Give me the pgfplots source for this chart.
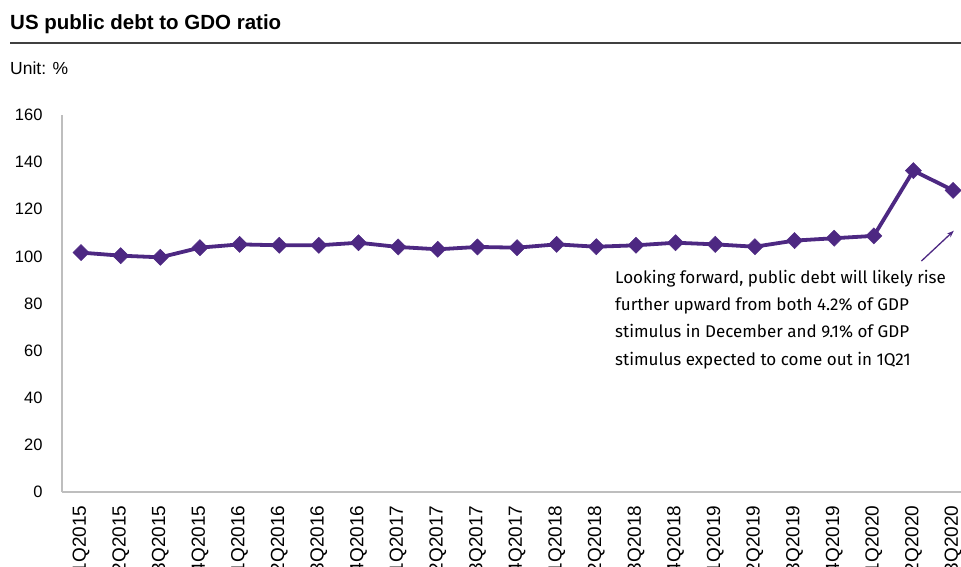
\documentclass[border=0pt]{standalone}
\usepackage{pgfplots}
\pgfplotsset{compat=1.18}
\usepackage{fontspec}
\setmainfont{Liberation Sans}
\newfontfamily\annfont{Fira Sans}
\usetikzlibrary{arrows.meta}
\definecolor{debtpurple}{RGB}{77,40,130}
\definecolor{axgray}{RGB}{190,190,190}
\begin{document}
\begin{tikzpicture}[x=1pt,y=1pt]
\useasboundingbox (0,0) rectangle (961,566);
\node[anchor=base west, inner sep=0, font=\bfseries\fontsize{20.5}{24}\selectfont] at (10,536.5) {US public debt to GDO ratio};
\draw[line width=1.5pt, color=black!75] (10,523) -- (961,523);
\node[anchor=base west, inner sep=0, font=\fontsize{17.5}{20}\selectfont] at (10,491) {Unit: \%};
\begin{axis}[
  at={(62pt,74pt)}, anchor=south west,
  scale only axis, width=899pt, height=377pt,
  xmin=-0.48, xmax=22.2, ymin=0, ymax=160,
  axis x line*=bottom, axis y line*=left,
  axis line style={-, draw=axgray, line width=1.5pt},
  major tick length=0pt,
  ytick={0,20,...,160},
  xtick={0,...,22},
  xticklabels={1Q2015,2Q2015,3Q2015,4Q2015,1Q2016,2Q2016,3Q2016,4Q2016,1Q2017,2Q2017,3Q2017,4Q2017,1Q2018,2Q2018,3Q2018,4Q2018,1Q2019,2Q2019,3Q2019,4Q2019,1Q2020,2Q2020,3Q2020},
  /pgf/number format/assume math mode=true,
  yticklabel style={font=\fontsize{16.5}{20}\selectfont, anchor=east, xshift=-16pt},
  xticklabel style={font=\fontsize{19}{22}\selectfont, yshift=-10pt, rotate=90, anchor=east},
  clip=false,
]
\addplot[color=debtpurple, line width=3.8pt, mark=square*, mark size=5.7pt, mark options={fill=debtpurple, rotate=45, line width=0.5pt}] coordinates {
(0,101.6) (1,100.3) (2,99.6) (3,103.7) (4,105.1) (5,104.7) (6,104.7) (7,105.8)
(8,104.0) (9,103.0) (10,104.0) (11,103.7) (12,105.1) (13,104.1) (14,104.7) (15,105.8)
(16,105.1) (17,104.1) (18,106.7) (19,107.7) (20,108.7) (21,136.4) (22,128.0)
};
\draw[-{Stealth[length=7pt,width=5pt]}, draw=debtpurple, line width=1.3pt] (axis cs:21.2,98) -- (axis cs:22.02,110.9);
\end{axis}
\node[anchor=base west, inner sep=0, align=left, font=\annfont\fontsize{17}{27.3}\selectfont] at (615,201) {Looking forward, public debt will likely rise\\further upward from both 4.2\% of GDP\\stimulus in December and 9.1\% of GDP\\stimulus expected to come out in 1Q21};
\end{tikzpicture}
\end{document}
